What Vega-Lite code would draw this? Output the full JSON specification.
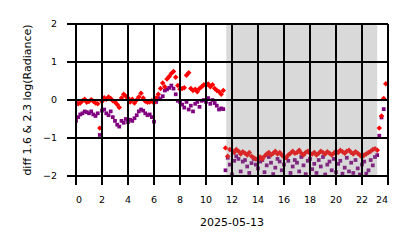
{
  "$schema": "https://vega.github.io/schema/vega-lite/v6.json",
  "width": 312,
  "height": 152,
  "autosize": "none",
  "padding": {"left": 76, "top": 24, "right": 26, "bottom": 72},
  "background": "white",
  "view": {"stroke": null},
  "config": {
    "view": {"stroke": null},
    "font": "DejaVu Sans"
  },
  "datasets": {
    "series": [
      {"t":0.00,"r":-0.05,"p":-0.55},{"t":0.17,"r":-0.10,"p":-0.45},{"t":0.33,"r":-0.08,"p":-0.38},{"t":0.50,"r":-0.02,"p":-0.35},
      {"t":0.67,"r":0.02,"p":-0.30},{"t":0.83,"r":-0.06,"p":-0.32},{"t":1.00,"r":-0.04,"p":-0.35},{"t":1.17,"r":0.01,"p":-0.30},
      {"t":1.33,"r":-0.03,"p":-0.38},{"t":1.50,"r":-0.08,"p":-0.42},{"t":1.67,"r":-0.10,"p":-0.35},{"t":1.83,"r":-0.74,"p":-0.92},
      {"t":2.00,"r":-0.04,"p":-0.28},{"t":2.17,"r":0.06,"p":-0.25},{"t":2.33,"r":0.02,"p":-0.35},{"t":2.50,"r":0.08,"p":-0.40},
      {"t":2.67,"r":0.04,"p":-0.30},{"t":2.83,"r":-0.02,"p":-0.45},{"t":3.00,"r":-0.05,"p":-0.55},{"t":3.17,"r":-0.12,"p":-0.65},
      {"t":3.33,"r":-0.20,"p":-0.70},{"t":3.50,"r":0.05,"p":-0.55},{"t":3.67,"r":0.15,"p":-0.60},{"t":3.83,"r":0.10,"p":-0.50},
      {"t":4.00,"r":0.05,"p":-0.58},{"t":4.17,"r":-0.05,"p":-0.52},{"t":4.33,"r":0.02,"p":-0.55},{"t":4.50,"r":-0.08,"p":-0.48},
      {"t":4.67,"r":0.00,"p":-0.40},{"t":4.83,"r":0.08,"p":-0.30},{"t":5.00,"r":0.18,"p":-0.25},{"t":5.17,"r":0.05,"p":-0.28},
      {"t":5.33,"r":-0.03,"p":-0.35},{"t":5.50,"r":-0.06,"p":-0.40},{"t":5.67,"r":-0.05,"p":-0.38},{"t":5.83,"r":-0.02,"p":-0.45},
      {"t":6.00,"r":-0.08,"p":-0.57},{"t":6.17,"r":0.05,"p":-0.05},{"t":6.33,"r":0.15,"p":0.05},{"t":6.50,"r":0.30,"p":0.02},
      {"t":6.67,"r":0.45,"p":0.10},{"t":6.83,"r":0.35,"p":0.25},{"t":7.00,"r":0.55,"p":0.28},{"t":7.17,"r":0.62,"p":0.32},
      {"t":7.33,"r":0.70,"p":0.38},{"t":7.50,"r":0.75,"p":0.30},{"t":7.67,"r":0.60,"p":0.15},{"t":7.83,"r":0.38,"p":-0.02},
      {"t":8.00,"r":0.28,"p":-0.05},{"t":8.17,"r":0.30,"p":-0.12},{"t":8.33,"r":0.32,"p":-0.20},{"t":8.50,"r":0.65,"p":-0.05},
      {"t":8.67,"r":0.72,"p":-0.25},{"t":8.83,"r":0.30,"p":-0.15},{"t":9.00,"r":0.25,"p":-0.30},{"t":9.17,"r":0.28,"p":-0.10},
      {"t":9.33,"r":0.22,"p":-0.05},{"t":9.50,"r":0.30,"p":-0.18},{"t":9.67,"r":0.35,"p":-0.02},{"t":9.83,"r":0.40,"p":0.00},
      {"t":10.00,"r":0.38,"p":-0.05},{"t":10.17,"r":0.42,"p":0.05},{"t":10.33,"r":0.35,"p":-0.10},{"t":10.50,"r":0.40,"p":0.00},
      {"t":10.67,"r":0.30,"p":-0.08},{"t":10.83,"r":0.25,"p":-0.15},{"t":11.00,"r":0.22,"p":-0.25},{"t":11.17,"r":0.15,"p":-0.22},
      {"t":11.33,"r":0.25,"p":-0.24},
      {"t":11.50,"r":-1.26,"p":-1.85},{"t":11.67,"r":-1.48,"p":-1.52},{"t":11.83,"r":-1.30,"p":-1.70},{"t":12.00,"r":-1.32,"p":-1.96},
      {"t":12.17,"r":-1.38,"p":-1.60},{"t":12.33,"r":-1.30,"p":-1.48},{"t":12.50,"r":-1.35,"p":-1.55},{"t":12.67,"r":-1.42,"p":-1.88},
      {"t":12.83,"r":-1.36,"p":-1.62},{"t":13.00,"r":-1.40,"p":-1.58},{"t":13.17,"r":-1.45,"p":-1.75},{"t":13.33,"r":-1.38,"p":-1.92},
      {"t":13.50,"r":-1.48,"p":-1.66},{"t":13.67,"r":-1.52,"p":-1.55},{"t":13.83,"r":-1.55,"p":-1.70},{"t":14.00,"r":-1.58,"p":-1.80},
      {"t":14.17,"r":-1.50,"p":-1.62},{"t":14.33,"r":-1.55,"p":-1.58},{"t":14.50,"r":-1.48,"p":-1.90},{"t":14.67,"r":-1.42,"p":-1.72},
      {"t":14.83,"r":-1.38,"p":-1.50},{"t":15.00,"r":-1.45,"p":-1.65},{"t":15.17,"r":-1.40,"p":-1.95},{"t":15.33,"r":-1.35,"p":-1.78},
      {"t":15.50,"r":-1.42,"p":-1.55},{"t":15.67,"r":-1.38,"p":-1.62},{"t":15.83,"r":-1.45,"p":-1.85},{"t":16.00,"r":-1.50,"p":-1.70},
      {"t":16.17,"r":-1.52,"p":-1.52},{"t":16.33,"r":-1.45,"p":-1.60},{"t":16.50,"r":-1.40,"p":-1.92},{"t":16.67,"r":-1.35,"p":-1.75},
      {"t":16.83,"r":-1.40,"p":-1.58},{"t":17.00,"r":-1.38,"p":-1.65},{"t":17.17,"r":-1.32,"p":-1.88},{"t":17.33,"r":-1.40,"p":-1.50},
      {"t":17.50,"r":-1.45,"p":-1.72},{"t":17.67,"r":-1.38,"p":-1.95},{"t":17.83,"r":-1.35,"p":-1.60},{"t":18.00,"r":-1.40,"p":-1.55},
      {"t":18.17,"r":-1.42,"p":-1.82},{"t":18.33,"r":-1.38,"p":-1.68},{"t":18.50,"r":-1.45,"p":-1.92},{"t":18.67,"r":-1.40,"p":-1.58},
      {"t":18.83,"r":-1.35,"p":-1.75},{"t":19.00,"r":-1.38,"p":-1.50},{"t":19.17,"r":-1.42,"p":-1.96},{"t":19.33,"r":-1.36,"p":-1.70},
      {"t":19.50,"r":-1.40,"p":-1.62},{"t":19.67,"r":-1.45,"p":-1.85},{"t":19.83,"r":-1.40,"p":-1.55},{"t":20.00,"r":-1.35,"p":-1.90},
      {"t":20.17,"r":-1.38,"p":-1.68},{"t":20.33,"r":-1.32,"p":-1.60},{"t":20.50,"r":-1.36,"p":-1.94},{"t":20.67,"r":-1.40,"p":-1.78},
      {"t":20.83,"r":-1.35,"p":-1.52},{"t":21.00,"r":-1.32,"p":-1.88},{"t":21.17,"r":-1.38,"p":-1.65},{"t":21.33,"r":-1.42,"p":-1.92},
      {"t":21.50,"r":-1.36,"p":-1.58},{"t":21.67,"r":-1.40,"p":-1.80},{"t":21.83,"r":-1.45,"p":-1.96},{"t":22.00,"r":-1.50,"p":-1.70},
      {"t":22.17,"r":-1.45,"p":-1.62},{"t":22.33,"r":-1.42,"p":-1.94},{"t":22.50,"r":-1.38,"p":-1.85},{"t":22.67,"r":-1.35,"p":-1.58},
      {"t":22.83,"r":-1.30,"p":-1.72},{"t":23.00,"r":-1.28,"p":-1.50},{"t":23.17,"r":-1.32,"p":-1.45},
      {"t":23.33,"r":-0.74,"p":-0.94},{"t":23.50,"r":-0.42,"p":-0.46},{"t":23.67,"r":0.04,"p":-0.24},{"t":23.83,"r":0.43,"p":null}
    ],
    "night": [{"t": 11.56, "end": 23.17}],
    "xgrid": [{"t":0},{"t":2},{"t":4},{"t":6},{"t":8},{"t":10},{"t":12},{"t":14},{"t":16},{"t":18},{"t":20},{"t":22},{"t":24}],
    "ygrid": [{"v":-2},{"v":-1},{"v":0},{"v":1},{"v":2}]
  },
  "encoding": {
    "x": {"field": "t", "type": "quantitative", "scale": {"domain": [0, 24], "nice": false},
          "axis": {"values": [0,2,4,6,8,10,12,14,16,18,20,22,24], "labelOverlap": false, "translate": 0,
                   "grid": true, "gridColor": "#000000", "gridWidth": 2, "gridOpacity": 1,
                   "ticks": true, "tickColor": "#000000", "tickWidth": 2, "tickSize": 9, "tickOpacity": 1,
                   "domain": false, "zindex": 1,
                   "labelFont": "DejaVu Sans", "labelFontSize": 9.5, "labelColor": "#000000", "labelPadding": 10,
                   "titleFont": "DejaVu Sans", "titleFontSize": 11, "titleFontWeight": "normal", "titleColor": "#000000", "titlePadding": 12},
          "title": "2025-05-13"}
  },
  "layer": [
    {
      "data": {"name": "series"},
      "mark": {"type": "point", "shape": "square", "filled": true, "color": "#800080", "size": 14, "opacity": 1, "clip": true},
      "encoding": {
        "y": {"field": "p", "type": "quantitative", "scale": {"domain": [-2, 2], "nice": false},
              "axis": {"values": [-2,-1,0,1,2], "labelOverlap": false, "translate": 0,
                       "grid": true, "gridColor": "#000000", "gridWidth": 2, "gridOpacity": 1,
                       "ticks": true, "tickColor": "#000000", "tickWidth": 2, "tickSize": 9, "tickOpacity": 1,
                       "domain": false, "zindex": 1,
                       "labelFont": "DejaVu Sans", "labelFontSize": 9.5, "labelColor": "#000000", "labelPadding": 10,
                       "titleFont": "DejaVu Sans", "titleFontSize": 11, "titleFontWeight": "normal", "titleColor": "#000000", "titlePadding": 10},
              "title": "diff 1.6 & 2.3  log(Radiance)"}
      }
    },
    {
      "data": {"name": "series"},
      "mark": {"type": "point", "shape": "diamond", "filled": true, "color": "#ff0000", "size": 30, "opacity": 1, "clip": true},
      "encoding": {
        "y": {"field": "r", "type": "quantitative",
              "axis": {"values": [-2,-1,0,1,2], "labelOverlap": false, "translate": 0,
                       "grid": true, "gridColor": "#000000", "gridWidth": 2, "gridOpacity": 1,
                       "ticks": true, "tickColor": "#000000", "tickWidth": 2, "tickSize": 9, "tickOpacity": 1,
                       "domain": false, "zindex": 1,
                       "labelFont": "DejaVu Sans", "labelFontSize": 9.5, "labelColor": "#000000", "labelPadding": 10,
                       "titleFont": "DejaVu Sans", "titleFontSize": 11, "titleFontWeight": "normal", "titleColor": "#000000", "titlePadding": 10},
              "title": "diff 1.6 & 2.3  log(Radiance)"}
      }
    },
    {
      "data": {"name": "night"},
      "mark": {"type": "rect", "fill": "#808080", "opacity": 0.3},
      "encoding": {
        "x2": {"field": "end"},
        "y": {"datum": 2, "type": "quantitative",
              "axis": {"values": [-2,-1,0,1,2], "labelOverlap": false, "translate": 0,
                       "grid": true, "gridColor": "#000000", "gridWidth": 2, "gridOpacity": 1,
                       "ticks": true, "tickColor": "#000000", "tickWidth": 2, "tickSize": 9, "tickOpacity": 1,
                       "domain": false, "zindex": 1,
                       "labelFont": "DejaVu Sans", "labelFontSize": 9.5, "labelColor": "#000000", "labelPadding": 10,
                       "titleFont": "DejaVu Sans", "titleFontSize": 11, "titleFontWeight": "normal", "titleColor": "#000000", "titlePadding": 10},
              "title": "diff 1.6 & 2.3  log(Radiance)"},
        "y2": {"datum": -2}
      }
    },
    {
      "data": {"name": "xgrid"},
      "mark": {"type": "rule", "color": "#000000", "strokeWidth": 2, "strokeCap": "butt"},
      "encoding": {
        "y": {"datum": 2, "type": "quantitative",
              "axis": {"values": [-2,-1,0,1,2], "labelOverlap": false, "translate": 0,
                       "grid": true, "gridColor": "#000000", "gridWidth": 2, "gridOpacity": 1,
                       "ticks": true, "tickColor": "#000000", "tickWidth": 2, "tickSize": 9, "tickOpacity": 1,
                       "domain": false, "zindex": 1,
                       "labelFont": "DejaVu Sans", "labelFontSize": 9.5, "labelColor": "#000000", "labelPadding": 10,
                       "titleFont": "DejaVu Sans", "titleFontSize": 11, "titleFontWeight": "normal", "titleColor": "#000000", "titlePadding": 10},
              "title": "diff 1.6 & 2.3  log(Radiance)"},
        "y2": {"datum": -2.237}
      }
    },
    {
      "data": {"name": "ygrid"},
      "mark": {"type": "rule", "color": "#000000", "strokeWidth": 2, "strokeCap": "butt"},
      "encoding": {
        "y": {"field": "v", "type": "quantitative",
              "axis": {"values": [-2,-1,0,1,2], "labelOverlap": false, "translate": 0,
                       "grid": true, "gridColor": "#000000", "gridWidth": 2, "gridOpacity": 1,
                       "ticks": true, "tickColor": "#000000", "tickWidth": 2, "tickSize": 9, "tickOpacity": 1,
                       "domain": false, "zindex": 1,
                       "labelFont": "DejaVu Sans", "labelFontSize": 9.5, "labelColor": "#000000", "labelPadding": 10,
                       "titleFont": "DejaVu Sans", "titleFontSize": 11, "titleFontWeight": "normal", "titleColor": "#000000", "titlePadding": 10},
              "title": "diff 1.6 & 2.3  log(Radiance)"},
        "x": {"datum": -0.692, "type": "quantitative",
              "axis": {"values": [0,2,4,6,8,10,12,14,16,18,20,22,24], "labelOverlap": false, "translate": 0,
                       "grid": true, "gridColor": "#000000", "gridWidth": 2, "gridOpacity": 1,
                       "ticks": true, "tickColor": "#000000", "tickWidth": 2, "tickSize": 9, "tickOpacity": 1,
                       "domain": false, "zindex": 1,
                       "labelFont": "DejaVu Sans", "labelFontSize": 9.5, "labelColor": "#000000", "labelPadding": 10,
                       "titleFont": "DejaVu Sans", "titleFontSize": 11, "titleFontWeight": "normal", "titleColor": "#000000", "titlePadding": 12},
              "title": "2025-05-13"},
        "x2": {"datum": 24}
      }
    }
  ]
}
